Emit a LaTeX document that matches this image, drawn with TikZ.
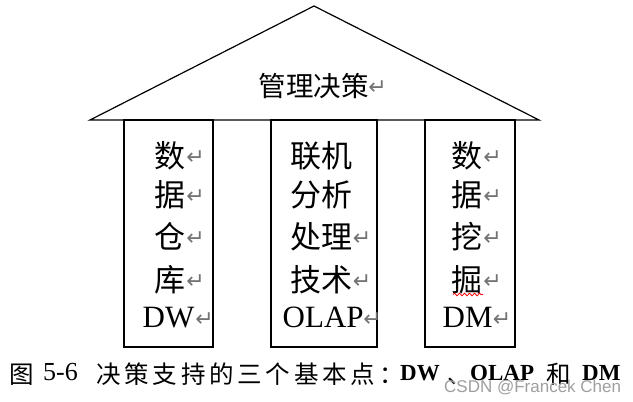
\documentclass[tikz,border=0pt]{standalone}
\usepackage{fontspec}
\setmainfont{Liberation Serif}
\newfontfamily\cjk{Noto Sans CJK SC}
\newfontfamily\cjkcap[LetterSpace=15.5]{Noto Sans CJK SC}
\newfontfamily\symf{DejaVu Sans}
\newfontfamily\wmf{Liberation Sans}
\usetikzlibrary{decorations.pathmorphing}
\tikzset{
  roofline/.style={line width=1.2pt, black},
  pillarline/.style={line width=1.6pt, black},
  cj/.style={inner sep=0pt, anchor=base west, font=\cjk\fontsize{31}{31}\selectfont},
  lat/.style={inner sep=0pt, anchor=base west, font=\fontsize{31}{31}\selectfont},
  rooftext/.style={inner sep=0pt, anchor=base west, font=\cjk\fontsize{27.5}{27.5}\selectfont},
  ret/.style={inner sep=0pt, text=black!55, font=\symf\fontsize{22}{22}\selectfont},
  capcj/.style={inner sep=0pt, anchor=base west, font=\cjk\fontsize{24.5}{24.5}\selectfont},
  capsp/.style={inner sep=0pt, anchor=base west, font=\cjkcap\fontsize{24.5}{24.5}\selectfont},
  caplat/.style={inner sep=0pt, anchor=base west, font=\fontsize{26}{26}\selectfont},
  capbf/.style={inner sep=0pt, anchor=base west, font=\bfseries\fontsize{23}{23}\selectfont},
  wmark/.style={inner sep=0pt, anchor=base west, text=gray!75, font=\wmf\fontsize{17}{17}\selectfont},
}
\begin{document}
\begin{tikzpicture}[x=1pt,y=-1pt]
\useasboundingbox[fill=white] (0,0) rectangle (633,402);
% roof
\coordinate (RL) at (90,120);
\coordinate (RT) at (314,6);
\coordinate (RR) at (539,120);
\draw[roofline] (RL) -- (RT) -- (RR) -- cycle;
% pillars
\draw[pillarline] (124,120) rectangle (213,347);
\draw[pillarline] (271,120) rectangle (377,347);
\draw[pillarline] (425,120) rectangle (515,347);
% roof text
\node[rooftext] (roof) at (258.6,96) {管理决策};
\node[ret] (roofr) at (377.5,88) {↵};
% left pillar
\node[cj] (l1) at (154.5,167) {数};
\node[cj] (l2) at (154.5,206) {据};
\node[cj] (l3) at (154.5,248) {仓};
\node[cj] (l4) at (154.5,291) {库};
\node[lat] (l5) at (142.5,327) {DW};
\node[ret] (l1r) at (195.5,158) {↵};
\node[ret] (l2r) at (195.5,197) {↵};
\node[ret] (l3r) at (195.5,239) {↵};
\node[ret] (l4r) at (195.5,282) {↵};
\node[ret] (l5r) at (204.5,320) {↵};
% middle pillar
\node[cj] (m1) at (290.5,167) {联机};
\node[cj] (m2) at (290.5,206) {分析};
\node[cj] (m3) at (290.5,248) {处理};
\node[cj] (m4) at (290.5,291) {技术};
\node[lat] (m5) at (282.5,327) {OLAP};
\node[ret] (m3r) at (362,239) {↵};
\node[ret] (m4r) at (362,282) {↵};
\node[ret] (m5r) at (372.5,320) {↵};
% right pillar
\node[cj] (r1) at (451.5,167) {数};
\node[cj] (r2) at (451.5,206) {据};
\node[cj] (r3) at (451.5,248) {挖};
\node[cj] (r4) at (451.5,291) {掘};
\node[lat] (r5) at (442.5,327) {DM};
\node[ret] (r1r) at (492.5,158) {↵};
\node[ret] (r2r) at (492.5,197) {↵};
\node[ret] (r3r) at (492.5,239) {↵};
\node[ret] (r4r) at (492.5,282) {↵};
\node[ret] (r5r) at (502,320) {↵};
\coordinate (w1) at (453,294.5);
\coordinate (w2) at (483,294.5);
\draw[red, line width=0.8pt, decorate, decoration={snake, amplitude=1.3pt, segment length=5pt}] (w1) -- (w2);
% caption
\node[capcj] (c1) at (9,383) {图};
\node[caplat] (c2) at (43,380) {5-6};
\node[capsp] (c3) at (96,383) {决策支持的三个基本点：};
\node[capbf] (c4) at (400,380) {DW};
\node[capcj] (c5) at (447,383) {、};
\node[capbf] (c6) at (470,380) {OLAP};
\node[capcj] (c7) at (546.5,383) {和};
\node[capbf] (c8) at (582,380) {DM};
\node[wmark] (wm) at (444,392) {CSDN @Francek Chen};
\end{tikzpicture}
\end{document}
